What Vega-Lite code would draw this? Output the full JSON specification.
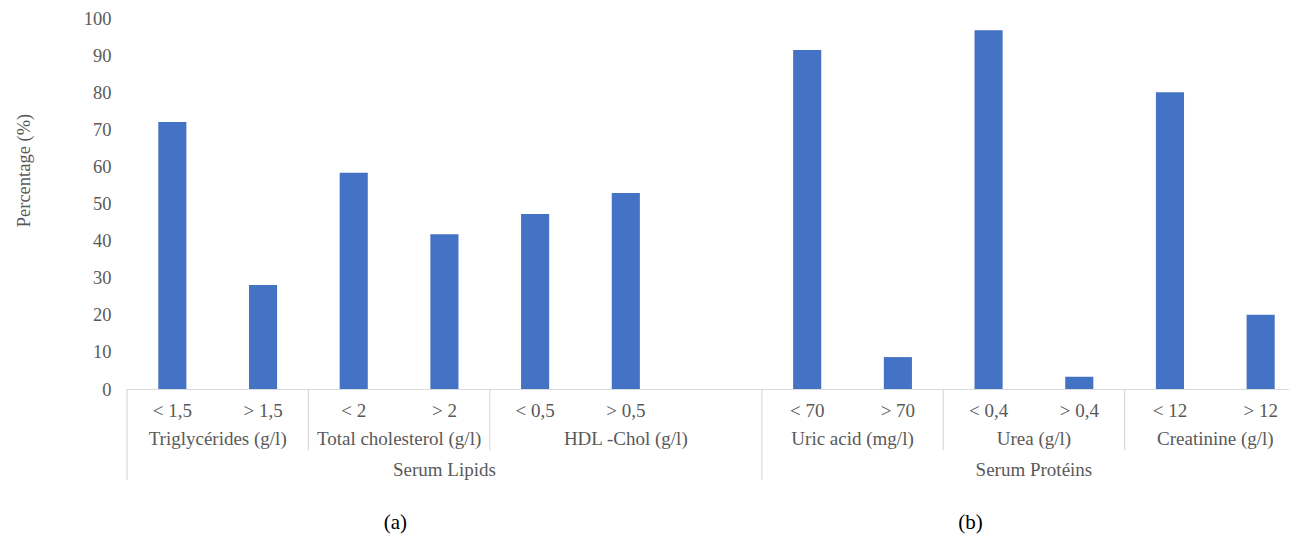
{
  "$schema": "https://vega.github.io/schema/vega-lite/v6.json",
  "background": "white",
  "padding": {"left": 14, "top": 9, "right": 0, "bottom": 0},
  "bounds": "flush",
  "spacing": 0,
  "config": {
    "view": {"stroke": null},
    "font": "Liberation Serif",
    "text": {"font": "Liberation Serif"}
  },
  "data": {
    "values": [
      {"label": "< 1,5", "test": "Triglycérides (g/l)", "panel": "Serum Lipids", "pct": 72},
      {"label": "> 1,5", "test": "Triglycérides (g/l)", "panel": "Serum Lipids", "pct": 28},
      {"label": "< 2", "test": "Total cholesterol (g/l)", "panel": "Serum Lipids", "pct": 58.3},
      {"label": "> 2", "test": "Total cholesterol (g/l)", "panel": "Serum Lipids", "pct": 41.7},
      {"label": "< 0,5", "test": "HDL -Chol (g/l)", "panel": "Serum Lipids", "pct": 47.2},
      {"label": "> 0,5", "test": "HDL -Chol (g/l)", "panel": "Serum Lipids", "pct": 52.8},
      {"label": " ", "test": "HDL -Chol (g/l)", "panel": "Serum Lipids", "pct": null},
      {"label": "< 70", "test": "Uric acid (mg/l)", "panel": "Serum Protéins", "pct": 91.4},
      {"label": "> 70", "test": "Uric acid (mg/l)", "panel": "Serum Protéins", "pct": 8.6},
      {"label": "< 0,4", "test": "Urea (g/l)", "panel": "Serum Protéins", "pct": 96.7},
      {"label": "> 0,4", "test": "Urea (g/l)", "panel": "Serum Protéins", "pct": 3.3},
      {"label": "< 12", "test": "Creatinine (g/l)", "panel": "Serum Protéins", "pct": 80},
      {"label": "> 12", "test": "Creatinine (g/l)", "panel": "Serum Protéins", "pct": 20}
    ]
  },
  "vconcat": [
    {
      "width": 1162,
      "height": 371,
      "mark": {"type": "bar", "color": "#4472C4", "invalid": null},
      "encoding": {
        "x": {
          "field": "label",
          "type": "nominal",
          "sort": null,
          "axis": null,
          "scale": {"paddingInner": 0.69, "paddingOuter": 0.345, "rangeMax": 1179}
        },
        "y": {
          "field": "pct",
          "type": "quantitative",
          "scale": {"domain": [0, 100], "nice": false},
          "axis": {
            "values": [0, 10, 20, 30, 40, 50, 60, 70, 80, 90, 100],
            "ticks": false,
            "domain": false,
            "grid": false,
            "labelPadding": 16,
            "labelFlush": false,
            "labelOverlap": false,
            "labelFont": "Liberation Serif",
            "labelFontSize": 18.5,
            "labelColor": "#595959",
            "title": "Percentage (%)",
            "titleFont": "Liberation Serif",
            "titleFontSize": 18.5,
            "titleFontWeight": "normal",
            "titleColor": "#595959",
            "titleAngle": 270,
            "titleAlign": "center",
            "titleBaseline": "middle",
            "titleX": -104,
            "titleY": 152
          }
        }
      }
    },
    {
      "width": 1162,
      "height": 154,
      "transform": [
        {"window": [{"op": "row_number", "as": "idx"}]},
        {"window": [{"op": "row_number", "as": "testRank"}], "groupby": ["test"]},
        {"window": [{"op": "row_number", "as": "panelRank"}], "groupby": ["panel"]}
      ],
      "layer": [
        {
          "mark": {"type": "rule", "color": "#d9d9d9", "strokeWidth": 1.2, "clip": true},
          "encoding": {
            "x": {"datum": 0.5, "type": "quantitative", "scale": {"domain": [0.5, 13.5], "rangeMax": 1179, "nice": false, "zero": false}, "axis": null},
            "x2": {"datum": 13.5},
            "y": {"datum": 0, "type": "quantitative", "scale": {"domain": [0, 5.5], "reverse": true, "nice": false}, "axis": null}
          }
        },
        {
          "transform": [
            {"filter": "datum.panelRank === 1"},
            {"calculate": "datum.idx - 0.5", "as": "edge"}
          ],
          "mark": {"type": "rule", "color": "#d9d9d9", "strokeWidth": 1.2},
          "encoding": {
            "x": {"field": "edge", "type": "quantitative"},
            "y": {"datum": 0, "type": "quantitative"},
            "y2": {"datum": 3.25}
          }
        },
        {
          "transform": [
            {"filter": "datum.testRank === 1 && datum.panelRank !== 1"},
            {"calculate": "datum.idx - 0.5", "as": "edge"}
          ],
          "mark": {"type": "rule", "color": "#d9d9d9", "strokeWidth": 1.2},
          "encoding": {
            "x": {"field": "edge", "type": "quantitative"},
            "y": {"datum": 0, "type": "quantitative"},
            "y2": {"datum": 2.18}
          }
        },
        {
          "mark": {"type": "text", "fontSize": 19, "color": "#595959", "align": "center", "baseline": "middle"},
          "encoding": {
            "x": {"field": "idx", "type": "quantitative"},
            "y": {"datum": 0.786, "type": "quantitative"},
            "text": {"field": "label"}
          }
        },
        {
          "transform": [
            {"aggregate": [{"op": "mean", "field": "idx", "as": "center"}], "groupby": ["test"]}
          ],
          "mark": {"type": "text", "fontSize": 19, "color": "#595959", "align": "center", "baseline": "middle"},
          "encoding": {
            "x": {"field": "center", "type": "quantitative"},
            "y": {"datum": 1.786, "type": "quantitative"},
            "text": {"field": "test"}
          }
        },
        {
          "transform": [
            {"aggregate": [{"op": "mean", "field": "idx", "as": "center"}], "groupby": ["panel"]}
          ],
          "mark": {"type": "text", "fontSize": 19, "color": "#595959", "align": "center", "baseline": "middle"},
          "encoding": {
            "x": {"field": "center", "type": "quantitative"},
            "y": {"datum": 2.89, "type": "quantitative"},
            "text": {"field": "panel"}
          }
        },
        {
          "data": {"values": [{"caption": "(a)"}]},
          "mark": {"type": "text", "fontSize": 21, "color": "#000000", "align": "center", "baseline": "middle"},
          "encoding": {
            "x": {"datum": 3.46, "type": "quantitative"},
            "y": {"datum": 4.79, "type": "quantitative"},
            "text": {"field": "caption"}
          }
        },
        {
          "data": {"values": [{"caption": "(b)"}]},
          "mark": {"type": "text", "fontSize": 21, "color": "#000000", "align": "center", "baseline": "middle"},
          "encoding": {
            "x": {"datum": 9.8, "type": "quantitative"},
            "y": {"datum": 4.79, "type": "quantitative"},
            "text": {"field": "caption"}
          }
        }
      ]
    }
  ]
}
